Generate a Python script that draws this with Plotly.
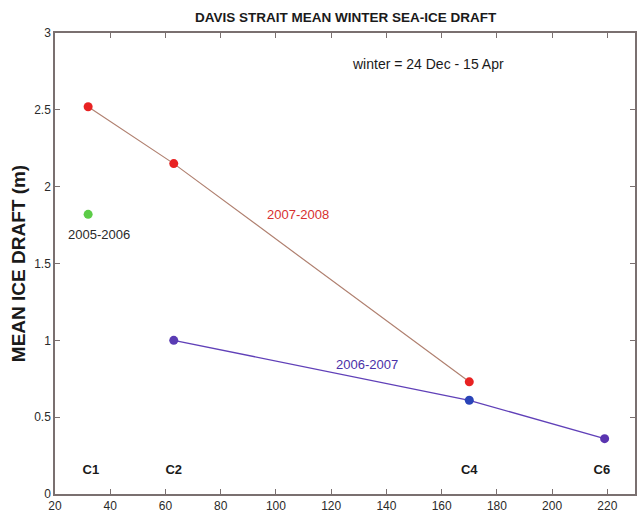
import plotly.graph_objects as go

# Data
dist_0708 = [32, 63, 170]
draft_0708 = [2.52, 2.15, 0.73]
dist_0607 = [63, 170, 219]
draft_0607 = [1.0, 0.61, 0.36]
colors_0607 = ["#5a3cb4", "#2a44b8", "#5a34b0"]
dist_0506 = [32]
draft_0506 = [1.82]
moorings = ["C1", "C2", "C4", "C6"]
mooring_x = [33, 63, 170, 218]
mooring_y = 0.15

fig = go.Figure()
fig.add_trace(go.Scatter(x=dist_0708, y=draft_0708, mode="lines+markers",
                         line=dict(color="#b08070", width=1.2),
                         marker=dict(color="#e82222", size=9), showlegend=False))
fig.add_trace(go.Scatter(x=dist_0607, y=draft_0607, mode="lines+markers",
                         line=dict(color="#6040b8", width=1.3),
                         marker=dict(color=colors_0607, size=9), showlegend=False))
fig.add_trace(go.Scatter(x=dist_0506, y=draft_0506, mode="markers",
                         marker=dict(color="#5ccc48", size=9), showlegend=False))

fig.add_trace(go.Scatter(x=mooring_x, y=[mooring_y]*len(moorings), mode="text",
                         text=["<b>%s</b>" % m for m in moorings],
                         textfont=dict(family="Arial", size=13, color="#1a1a1a"),
                         showlegend=False))

ann = [
    dict(x=108, y=1.82, text="2007-2008", color="#d83030", size=13),
    dict(x=133, y=0.84, text="2006-2007", color="#4a30a8", size=13),
    dict(x=36, y=1.69, text="2005-2006", color="#2a2a2a", size=13),
    dict(x=155, y=2.80, text="winter = 24 Dec - 15 Apr", color="#1a1a1a", size=14),
]
for a in ann:
    fig.add_annotation(x=a["x"], y=a["y"], text=a["text"], showarrow=False,
                       font=dict(family="Arial", size=a["size"], color=a["color"]))

fig.update_layout(
    width=640, height=516,
    margin=dict(l=55, r=3, t=33, b=22),
    paper_bgcolor="white", plot_bgcolor="white",
    title=dict(text="<b>DAVIS STRAIT MEAN WINTER SEA-ICE DRAFT</b>", x=0.54, xanchor="center",
               y=0.967, yanchor="middle",
               font=dict(family="Arial", size=13.5, color="#1a1a1a")),
    font=dict(family="Arial", size=12, color="#333333"),
)
axis_common = dict(showline=True, linecolor="#7a7070", linewidth=1.5, mirror="ticks",
                   ticks="inside", ticklen=5, tickcolor="#7a7070", showgrid=False,
                   zeroline=False, tickfont=dict(family="Arial", size=12, color="#2a2a2a"))
fig.update_xaxes(range=[20, 230], dtick=20, tick0=20, **axis_common)
fig.update_yaxes(range=[0, 3], dtick=0.5, tick0=0, ticklabelstandoff=0,
                 title=dict(text="<b>MEAN ICE DRAFT (m)</b>", standoff=4,
                            font=dict(family="Arial", size=19, color="#1a1a1a")),
                 **axis_common)

fig.write_html("out.html")
